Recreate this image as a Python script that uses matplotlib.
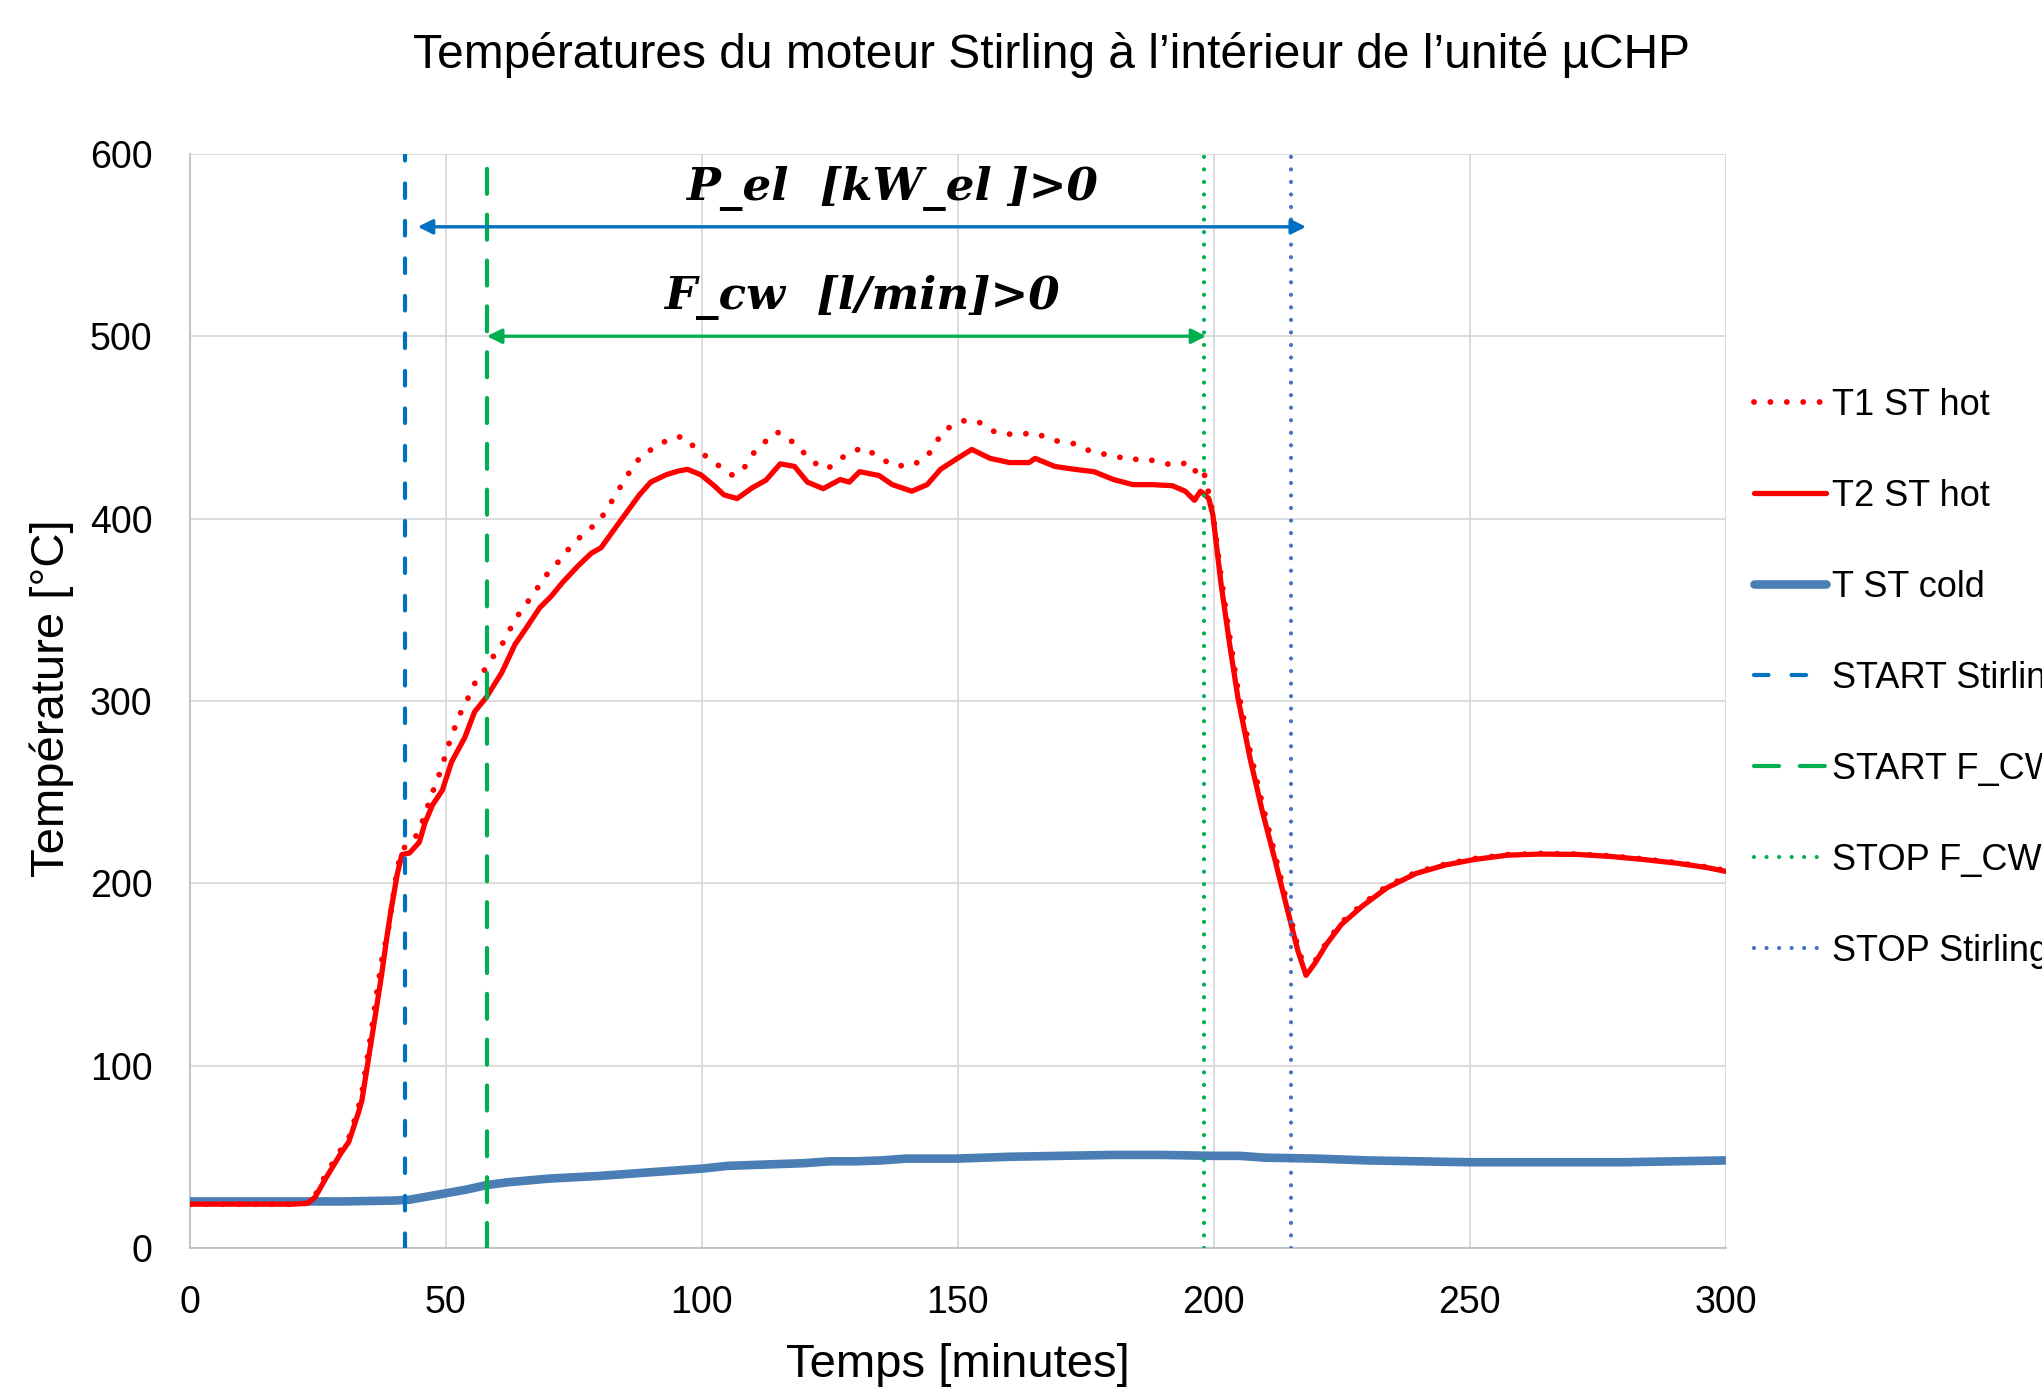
import matplotlib
matplotlib.use("Agg")
import matplotlib.pyplot as plt

plt.rcParams['font.family'] = ['Liberation Sans', 'DejaVu Sans']

# T2 ST hot (solid)  -  temps [min], temperature [°C]
t2_time = [0, 5, 10, 15, 20, 23, 24.5, 26.5, 28, 29.5, 31, 31.6, 33, 33.6, 35.4, 37.4, 38.4, 39.2,
           40.5, 41.4, 42.9, 44.8, 45.9, 47.4, 49.3, 51.1, 53.7, 55.6, 57.9, 60.9, 63.5, 65.7, 68.3,
           70.6, 72.8, 75.8, 78.4, 80.3, 82.6, 85.2, 87.8, 90.0, 93.0, 95.3, 97.2, 99.8, 102.4, 104.3,
           106.9, 109.9, 112.5, 115.3, 118.1, 120.6, 123.7, 127.0, 128.8, 130.8, 134.6, 137.2, 141.0,
           144.0, 146.6, 149.9, 152.7, 156.3, 160.1, 163.9, 165.1, 168.9, 172.8, 176.6, 180.4, 184.2,
           188.0, 191.9, 194.4, 196.2, 197.4, 199.0, 199.8, 201.4, 203.1, 204.7, 207.1, 209.5, 212.0,
           214.4, 216.4, 218.0, 219.7, 222.1, 224.9, 229.0, 233.8, 239.5, 245.2, 250.8, 257.3, 263.7,
           271.0, 277.5, 284.0, 290.4, 296.1, 300]
t2_hot = [24, 24, 24, 24, 24, 24.5, 28, 38, 45, 52, 58, 63, 75, 81, 113, 149, 169, 184,
          205, 215.7, 216.6, 222.5, 233, 243, 251, 266.5, 280, 294, 302, 315.5, 331, 340, 351,
          357.5, 365, 374, 381, 384, 393, 403, 413, 420, 424, 426, 427, 424, 418, 413,
          411, 417, 421, 430, 428.6, 420, 416.4, 421.4, 420, 425.7, 423.6, 418.6, 415,
          418.6, 427, 433, 437.9, 433, 430.7, 430.7, 433, 428.6, 427, 425.7, 421.4, 418.6,
          418.6, 418, 415, 410, 415, 411, 402, 364, 330.6, 301.6, 268, 239, 212,
          185, 163, 149.5, 156, 167, 177.4, 187.5, 197.5, 205.4, 210, 213, 215.4, 216,
          215.8, 214.7, 213, 211, 208.7, 206.5]

# T1 ST hot (dotted)
t1_time = [0, 5, 10, 15, 20, 23, 24.5, 26.5, 28, 29.5, 31, 31.6, 33, 33.6, 35.4, 36.5, 37.5, 38.8,
           40.6, 41.9, 44.0, 45.3, 46.3, 47.4, 48.5, 49.5, 50.4, 51.5, 52.6, 54.1, 55.2, 57.1, 58.8,
           60.7, 62.1, 63.6, 65.5, 67.4, 68.9, 71.2, 73.1, 75.1, 77.5, 80.0, 81.6, 83.3, 84.8, 86.7,
           88.6, 91.2, 93.6, 96.3, 98.6, 101.1, 103.5, 106.1, 108.3, 110.0, 112.3, 114.5, 116, 118.1,
           121.9, 124.4, 127.7, 131.3, 134.6, 137.2, 141.0, 144.0, 147.3, 151.1, 153.7, 157.5, 161.3,
           165.1, 168.4, 172.8, 176.6, 180.5, 183.3, 186.3, 189.3, 192.4, 195.2, 196.4, 197.8, 198.6,
           199.2, 199.8, 201.4, 203.1, 204.7, 207.1, 209.5, 212.0, 214.4, 216.4, 218.0, 219.7, 222.1,
           224.9, 229.0, 233.8, 239.5, 245.2, 250.8, 257.3, 263.7, 271.0, 277.5, 284.0, 290.4, 296.1, 300]
t1_hot = [24, 24, 24, 24, 24, 24.5, 29, 40, 47, 54, 60, 65, 78, 85, 118, 140, 158, 175.5,
          209.8, 219.6, 225, 233, 241, 250, 258, 266.5, 275, 283.5, 292, 300, 308, 315, 322.7,
          329.5, 337, 345, 352.6, 359.5, 367, 373.6, 380.4, 387, 393, 398.6, 406, 413.5, 421, 429,
          436, 439, 444, 445, 439, 433.5, 428.6, 423.5, 428, 435.6, 442, 447.5, 446, 441,
          430.7, 427, 434, 439, 434, 429, 429, 434, 448.6, 453.6, 453.6, 447, 446,
          447, 443, 441, 436, 434.7, 432, 433, 431, 429, 431, 426, 428, 419,
          410.7, 403, 368, 335, 306, 272, 243, 215, 188, 165, 151, 157, 168,
          178.5, 188.5, 198.5, 206, 210.5, 213.5, 215.7, 216.3, 216, 215, 213.3, 211.3, 209, 207]

# T ST cold
cold_time = [0, 10, 20, 30, 40, 43, 46, 50, 54, 58, 62, 66, 70, 80, 90, 100, 105, 110, 120, 125,
             130, 135, 140, 150, 155, 160, 170, 180, 190, 200, 205, 210, 220, 230, 240, 250, 260,
             270, 280, 290, 300]
cold = [25.5, 25.5, 25.5, 25.5, 26, 26.5, 28, 30, 32, 34.5, 36, 37, 38, 39.5, 41.5, 43.5, 45, 45.5,
        46.5, 47.5, 47.5, 48, 49, 49, 49.5, 50, 50.5, 51, 51, 50.5, 50.5, 49.5, 49, 48, 47.5, 47,
        47, 47, 47, 47.5, 48]

# events [min]
start_stirling = 42
start_fcw = 58
stop_fcw = 198
stop_stirling = 215

# arrows: (start, end, y) and their texts
pel_arrow = (44.5, 218, 560)
fcw_arrow = (58, 198.5, 500)
pel_text = "P_el  [kW_el ]>0"
fcw_text = "F_cw  [l/min]>0"

fig = plt.figure(figsize=(20.42, 13.9), dpi=100)
ax = fig.add_axes([0.0930, 0.1022, 0.7522, 0.7871])

red = "#FF0000"
ax.plot(t1_time, t1_hot, color=red, lw=4.2, linestyle=(0, (0.01, 2.8)),
        dash_capstyle="round", label="T1 ST hot", zorder=5)
ax.plot(t2_time, t2_hot, color=red, lw=3.8, solid_capstyle="round",
        solid_joinstyle="round", label="T2 ST hot", zorder=6)
ax.plot(cold_time, cold, color="#4A7EB4", lw=6.2, solid_capstyle="round",
        label="T ST cold", zorder=4)

# vertical event lines
ax.axvline(start_stirling, color="#0070C0", lw=3, linestyle=(0, (3.5, 5.5)),
           dash_capstyle="round", label="START Stirling", zorder=7)
ax.axvline(start_fcw, color="#00B050", lw=3, linestyle=(0, (6, 5)),
           dash_capstyle="round", label="START F_CW", zorder=7)
ax.axvline(stop_fcw, color="#00B050", lw=3, linestyle=(0, (0.01, 3)),
           dash_capstyle="round", label="STOP F_CW", zorder=7)
ax.axvline(stop_stirling, color="#4472C4", lw=3, linestyle=(0, (0.01, 3)),
           dash_capstyle="round", label="STOP Stirling", zorder=7)

# double arrows
ax.annotate("", xy=(pel_arrow[1], pel_arrow[2]), xytext=(pel_arrow[0], pel_arrow[2]),
            arrowprops=dict(arrowstyle="<|-|>", color="#0070C0", lw=2.4,
                            mutation_scale=22, shrinkA=0, shrinkB=0), zorder=8)
ax.annotate("", xy=(fcw_arrow[1], fcw_arrow[2]), xytext=(fcw_arrow[0], fcw_arrow[2]),
            arrowprops=dict(arrowstyle="<|-|>", color="#00B050", lw=2.4,
                            mutation_scale=22, shrinkA=0, shrinkB=0), zorder=8)
ax.text(137.2, 581, pel_text, ha="center", va="center", fontsize=32.5,
        family="DejaVu Serif", fontweight="bold", fontstyle="italic", zorder=9)
ax.text(131.3, 521, fcw_text, ha="center", va="center", fontsize=32.5,
        family="DejaVu Serif", fontweight="bold", fontstyle="italic", zorder=9)

ax.set_xlim(0, 300)
ax.set_ylim(0, 600)
ax.set_xticks(range(0, 301, 50))
ax.set_yticks(range(0, 601, 100))
ax.grid(True, color="#D9D9D9", lw=1.3)
ax.set_axisbelow(True)
for s in ["top", "right"]:
    ax.spines[s].set_visible(False)
for s in ["left", "bottom"]:
    ax.spines[s].set_color("#BFBFBF")
    ax.spines[s].set_linewidth(1.3)
ax.tick_params(length=0, labelsize=27, pad=27, colors="#000000")

fig.text(0.515, 0.9607, "Températures du moteur Stirling à l’intérieur de l’unité µCHP",
         ha="center", va="center", fontsize=34.5)
fig.text(0.4689, 0.018, "Temps [minutes]", ha="center", va="center", fontsize=34)
fig.text(0.0255, 0.498, "Température [°C]", ha="center", va="center", fontsize=34,
         rotation=90)

leg = fig.legend(loc="upper left", bbox_to_anchor=(0.859, 0.7208), frameon=False,
                 fontsize=26, handlelength=2.0, handletextpad=0.15, labelspacing=1.55,
                 borderpad=0, borderaxespad=0)

plt.savefig("out.png", dpi=100)
